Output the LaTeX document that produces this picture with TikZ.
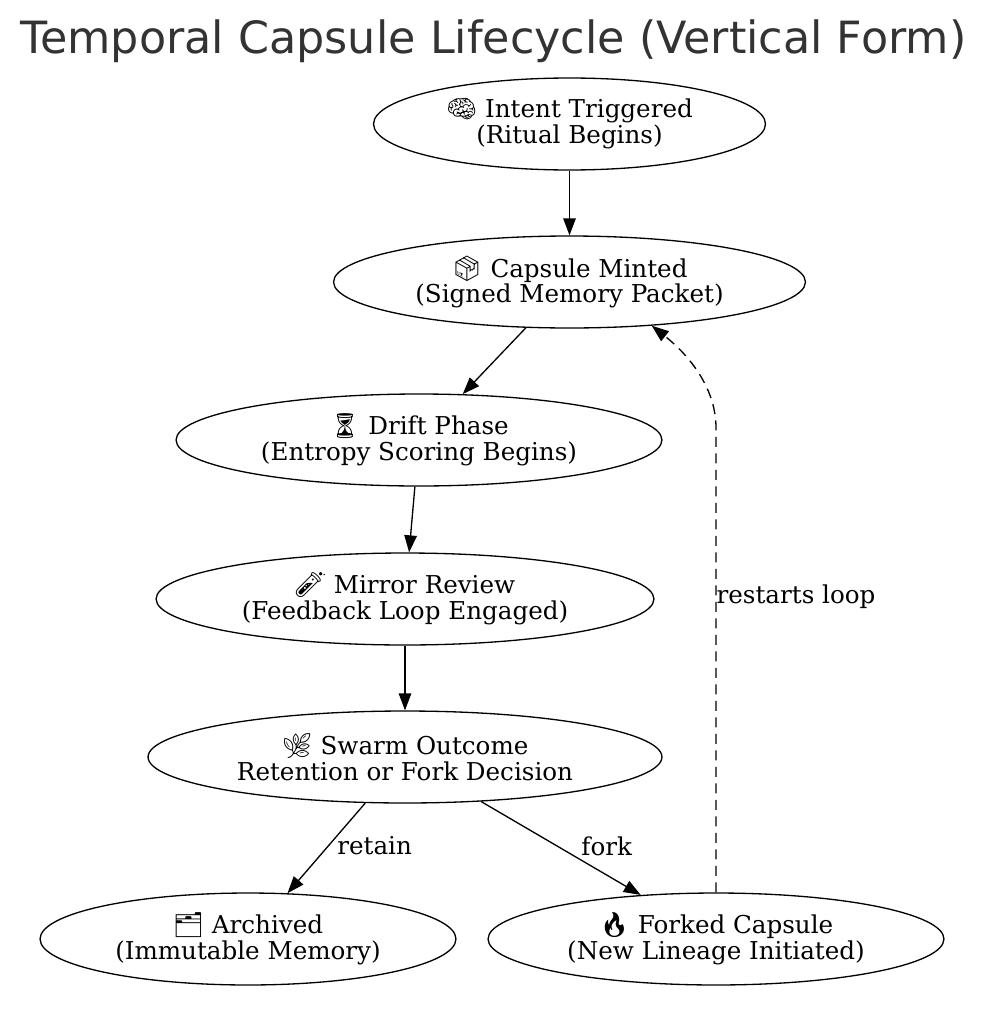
\documentclass[tikz,border=0pt]{standalone}
\usepackage{fontspec}
\setmainfont{DejaVu Serif}
\newfontfamily\titlefont{DejaVu Sans}
\newfontfamily\emojifont{Noto Emoji}
\usetikzlibrary{arrows.meta,shapes.geometric}
\definecolor{titlegray}{HTML}{333333}
\newcommand{\emo}[1]{{\emojifont #1}}

\begin{document}
\begin{tikzpicture}[x=0.02cm,y=-0.02cm,line width=0.75pt,
  capsule/.style={draw,ellipse,inner sep=0pt,minimum height=1.84cm,align=center,
    font=\fontsize{14}{14.7}\selectfont},
  flow/.style={-{Triangle[length=0.34cm,width=0.25cm]}},
  edgelabel/.style={font=\fontsize{14}{14.7}\selectfont,inner sep=0pt}]
\useasboundingbox (0,0) rectangle (986,1014);
\node[font=\titlefont\fontsize{25.3}{30}\selectfont,text=titlegray] (title) at (493.5,41)
  {Temporal Capsule Lifecycle (Vertical Form)};
% the capsule states
\node[capsule,minimum width=7.84cm] (intent) at (569.5,124) {\emo{🧠} Intent Triggered\\(Ritual Begins)};
\node[capsule,minimum width=9.44cm] (minted) at (569.5,282) {\emo{📦} Capsule Minted\\(Signed Memory Packet)};
\node[capsule,minimum width=9.72cm] (drift) at (419,440) {\emo{⏳} Drift Phase\\(Entropy Scoring Begins)};
\node[capsule,minimum width=9.96cm] (mirror) at (405,599) {\emo{🧪} Mirror Review\\(Feedback Loop Engaged)};
\node[capsule,minimum width=10.28cm] (swarm) at (405,757) {\emo{🌿} Swarm Outcome\\Retention or Fork Decision};
\node[capsule,minimum width=8.32cm] (archived) at (248,939) {\emo{🗂} Archived\\(Immutable Memory)};
\node[capsule,minimum width=9.12cm] (forked) at (716,939) {\emo{🔥} Forked Capsule\\(New Lineage Initiated)};
\coordinate (turn) at (716,428);
% transitions
\draw[flow] (intent) -- (minted);
\draw[flow] (minted) -- (drift);
\draw[flow] (drift) -- (mirror);
\draw[flow] (mirror) -- (swarm);
\draw[flow] (swarm) -- node[edgelabel,anchor=west,pos=0.47,xshift=0.16cm]{retain} (archived);
\draw[flow] (swarm) -- node[edgelabel,anchor=west,pos=0.48,xshift=0.46cm]{fork} (forked);
\draw[flow,dash pattern=on 0.2cm off 0.13cm] (forked.north) -- node[edgelabel,anchor=west,pos=0.637]{restarts loop}
  (turn) .. controls (716,385) and (685,352) .. (minted.-28);
\end{tikzpicture}
\end{document}
